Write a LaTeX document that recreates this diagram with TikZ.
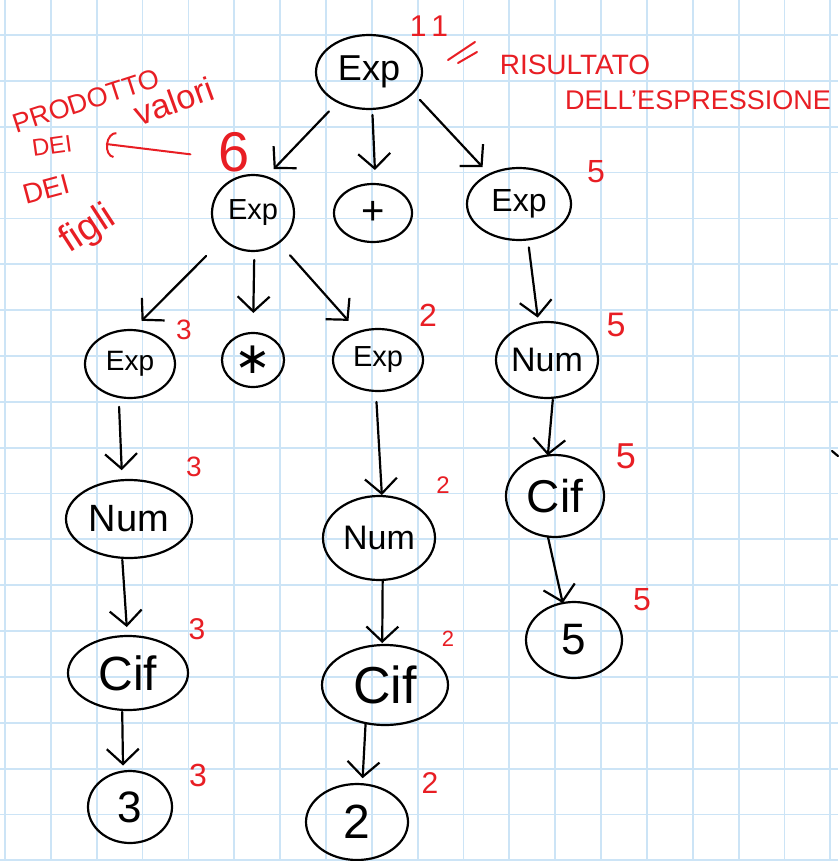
\documentclass[tikz,border=0pt]{standalone}
\usepackage{fontspec}
\setmainfont{Liberation Sans}
\newfontfamily\symfont{DejaVu Sans}
\usetikzlibrary{shapes.geometric,arrows.meta}
\definecolor{gridc}{RGB}{204,228,246}
\definecolor{ink}{RGB}{0,0,0}
\definecolor{redink}{RGB}{232,30,36}
\newcommand{\fs}[1]{\fontsize{#1}{#1}\selectfont}
\tikzset{
  tnode/.style={ellipse, draw=ink, line width=2.2pt, inner sep=0pt, outer sep=0pt, text=ink},
  arr/.style={draw=ink, line width=2.2pt, line cap=round, -{Straight Barb[length=15pt,width=32pt]}},
  val/.style={text=redink, inner sep=0pt},
  note/.style={text=redink, inner sep=0pt},
  redline/.style={draw=redink, line width=2pt, line cap=round},
  gridline/.style={draw=gridc, line width=1.8pt}
}
\begin{document}
\begin{tikzpicture}[x=1pt,y=-1pt]
\fill[white] (0,0) rectangle (838,861);
\useasboundingbox (0,0) rectangle (838,861);
% grid paper
\foreach \i in {0,...,18} {
  \draw[gridline] ({5+45.85*\i},0) -- ({5+45.85*\i},861);
  \draw[gridline] (0,{35+45.85*\i}) -- (838,{35+45.85*\i});
}
% tree nodes
\node[tnode, minimum width=106pt, minimum height=74pt, font=\fs{36}] (root) at (369,72) {Exp};
\node[tnode, minimum width=82pt, minimum height=76pt, font=\fs{29}] (expL) at (253,213) {Exp};
\node[tnode, minimum width=78pt, minimum height=58pt, font=\fs{40}] (plus) at (373,213) {+};
\node[tnode, minimum width=104pt, minimum height=72pt, font=\fs{32}] (expR) at (519,204) {Exp};
\node[tnode, minimum width=90pt, minimum height=68pt, font=\fs{28}] (expL3) at (130,364) {Exp};
\node[tnode, minimum width=62pt, minimum height=54pt, font=\symfont\fs{44}] (star) at (253,360) {∗};
\node[tnode, minimum width=90pt, minimum height=62pt, font=\fs{29}] (expM) at (378,360) {Exp};
\node[tnode, minimum width=102pt, minimum height=76pt, font=\fs{34}] (numR) at (547,360) {Num};
\node[tnode, minimum width=126pt, minimum height=78pt, font=\fs{38}] (numL) at (129,519) {Num};
\node[tnode, minimum width=112pt, minimum height=84pt, font=\fs{34}] (numM) at (379,538) {Num};
\node[tnode, minimum width=98pt, minimum height=82pt, font=\fs{46}] (cifR) at (555,496) {Cif};
\node[tnode, minimum width=120pt, minimum height=74pt, font=\fs{48}] (cifL) at (128,673) {Cif};
\node[tnode, minimum width=126pt, minimum height=80pt, font=\fs{52}] (cifM) at (385,685) {Cif};
\node[tnode, minimum width=96pt, minimum height=76pt, font=\fs{44}] (five) at (574,640) {5};
\node[tnode, minimum width=84pt, minimum height=72pt, font=\fs{44}] (three) at (130,807) {3};
\node[tnode, minimum width=102pt, minimum height=76pt, font=\fs{48}] (two) at (357,822) {2};
% connectors
\draw[arr, shorten <=13pt, shorten >=11pt] (root.224) -- (expL.70);
\draw[arr, shorten <=6pt, shorten >=14pt] (root.275) -- (plus.85);
\draw[arr, shorten <=10pt, shorten >=10pt] (root.335) -- (expR.135);
\draw[arr, shorten <=24pt, shorten >=13pt] (expL.221) -- (expL3.86);
\draw[arr, shorten <=9pt, shorten >=20pt] (expL.272) -- (star.90);
\draw[arr, shorten <=17pt, shorten >=15pt] (expL.311) -- (expM.125);
\draw[arr, shorten <=8pt, shorten >=5pt] (expR.284) -- (numR.103);
\draw[arr, shorten <=10pt, shorten >=10pt] (expL3.251) -- (numL.100);
\draw[arr, shorten <=2pt, shorten >=9pt] (numL.260) -- (cifL.91);
\draw[arr, shorten <=2pt, shorten >=6pt] (cifL.261) -- (three.101);
\draw[arr, shorten <=11pt, shorten >=1pt] (expM.266) -- (numM.86);
\draw[arr, shorten >=2pt] (numM.275) -- (cifM.94);
\draw[arr, shorten >=6pt] (cifM.243) -- (two.82);
\draw[arr, shorten <=2pt] (numR.279) -- (cifR.100);
\draw[arr] (cifR.260) -- (five.107);
% red values
\node[val, font=\fs{30}] (v11) at (429,26) {1\,1};
\node[val, font=\fs{56}] (v6) at (234,152) {6};
\node[val, font=\fs{32}] (v5a) at (596,172) {5};
\node[val, font=\fs{28}] (v3a) at (184,330) {3};
\node[val, font=\fs{32}] (v2a) at (428,315) {2};
\node[val, font=\fs{34}] (v5b) at (616,325) {5};
\node[val, font=\fs{28}] (v3b) at (194,467) {3};
\node[val, font=\fs{24}] (v2b) at (443,485) {2};
\node[val, font=\fs{36}] (v5c) at (626,456) {5};
\node[val, font=\fs{30}] (v3c) at (197,629) {3};
\node[val, font=\fs{22}] (v2c) at (448,639) {2};
\node[val, font=\fs{32}] (v5d) at (642,600) {5};
\node[val, font=\fs{32}] (v3d) at (198,775) {3};
\node[val, font=\fs{30}] (v2d) at (430,783) {2};
% red notes
\node[note, font=\fs{28}] (ris) at (575,65) {RISULTATO};
\node[note, font=\fs{27}] (dell) at (698,100) {DELL'ESPRESSIONE};
\draw[redline] (448,60) -- (475,42);
\draw[redline] (458,63) -- (477,52);
\node[note, font=\fs{27}, rotate=18] (prod) at (86,101) {PRODOTTO};
\node[note, font=\fs{34}, rotate=20] (valori) at (174,101) {valori};
\node[note, font=\fs{24}, rotate=8] (dei1) at (52,146) {DEI};
\node[note, font=\fs{28}, rotate=15] (dei2) at (46,189) {DEI};
\node[note, font=\fs{38}, rotate=33] (figli) at (88,230) {figli};
\coordinate (ahead) at (106,144);
\draw[redline, shorten <=28pt, -{Arc Barb[length=9pt,width=26pt]}] (v6.200) -- (ahead);
% stray mark
\draw[ink, line width=2.2pt, line cap=round] (832,451) -- (838,456);
\end{tikzpicture}
\end{document}
